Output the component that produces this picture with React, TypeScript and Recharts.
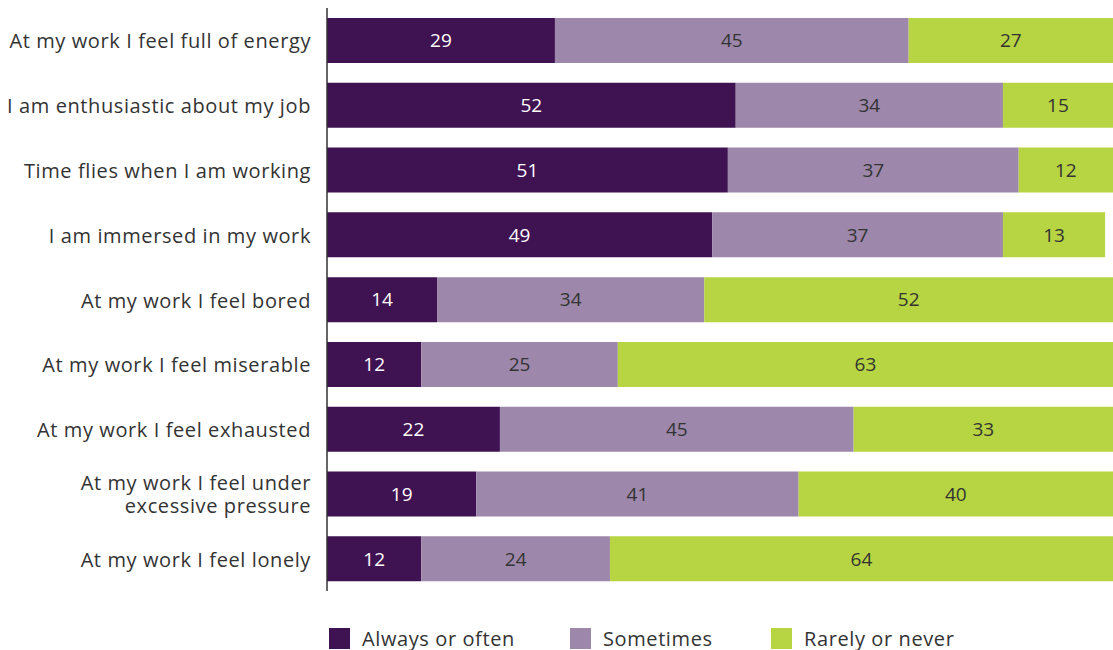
import { Bar, BarChart, LabelList, Legend, XAxis, YAxis } from "recharts";

const statements = [
  "At my work I feel full of energy",
  "I am enthusiastic about my job",
  "Time flies when I am working",
  "I am immersed in my work",
  "At my work I feel bored",
  "At my work I feel miserable",
  "At my work I feel exhausted",
  "At my work I feel under\nexcessive pressure",
  "At my work I feel lonely",
];
const alwaysOften = [29, 52, 51, 49, 14, 12, 22, 19, 12];
const sometimes = [45, 34, 37, 37, 34, 25, 45, 41, 24];
const rarelyNever = [27, 15, 12, 13, 52, 63, 33, 40, 64];

const seriesNames = ["Always or often", "Sometimes", "Rarely or never"];
const colors = ["#3f1251", "#9d87aa", "#b7d442"];
const labelColors = ["#ffffff", "#333333", "#333333"];

const data = statements.map((s, i) => ({
  name: s,
  always: alwaysOften[i],
  sometimes: sometimes[i],
  rarely: rarelyNever[i],
}));

const FONT = "'Open Sans', Lato, sans-serif";

function StatementTick(props: any) {
  const { x, y, payload } = props;
  const lines = String(payload.value).split("\n");
  const lh = 23;
  const startDy = -((lines.length - 1) * lh) / 2;
  return (
    <text
      x={x}
      y={y}
      textAnchor="end"
      fill="#333"
      fontSize={20}
      letterSpacing={0.6}
      fontFamily={FONT}
      dominantBaseline="central"
    >
      {lines.map((l, i) => (
        <tspan key={i} x={x} dy={i === 0 ? startDy : lh}>
          {l}
        </tspan>
      ))}
    </text>
  );
}

function LegendContent() {
  return (
    <div style={{ display: "flex", fontFamily: FONT, fontSize: 20, letterSpacing: 0.6, color: "#333" }}>
      {seriesNames.map((n, i) => (
        <div key={n} style={{ display: "flex", alignItems: "center", width: i === 2 ? 200 : [241, 201][i] }}>
          <span style={{ width: 21, height: 21, background: colors[i], display: "inline-block", marginRight: 12 }} />
          <span>{n}</span>
        </div>
      ))}
    </div>
  );
}

export default function App() {
  const keys = ["always", "sometimes", "rarely"];
  return (
    <div style={{ position: "absolute", left: 0, top: 0 }}>
      <BarChart
        width={1113}
        height={650}
        data={data}
        layout="vertical"
        barCategoryGap="15.5%"
        margin={{ top: 8, right: 0, bottom: 32, left: 0 }}
      >
        <XAxis type="number" domain={[0, 100]} allowDataOverflow hide />
        <YAxis
          type="category"
          dataKey="name"
          width={327}
          tickLine={false}
          axisLine={{ stroke: "#333", strokeWidth: 1.5 }}
          tickMargin={10}
          tick={<StatementTick />}
          interval={0}
        />
        <Legend
          content={<LegendContent />}
          wrapperStyle={{ position: "absolute", left: 329, top: 625, width: 700 }}
        />
        {keys.map((k, i) => (
          <Bar key={k} dataKey={k} name={seriesNames[i]} stackId="a" fill={colors[i]} isAnimationActive={false}>
            <LabelList dataKey={k} position="center" fill={labelColors[i]} fontSize={19} fontFamily={FONT} />
          </Bar>
        ))}
      </BarChart>
    </div>
  );
}
